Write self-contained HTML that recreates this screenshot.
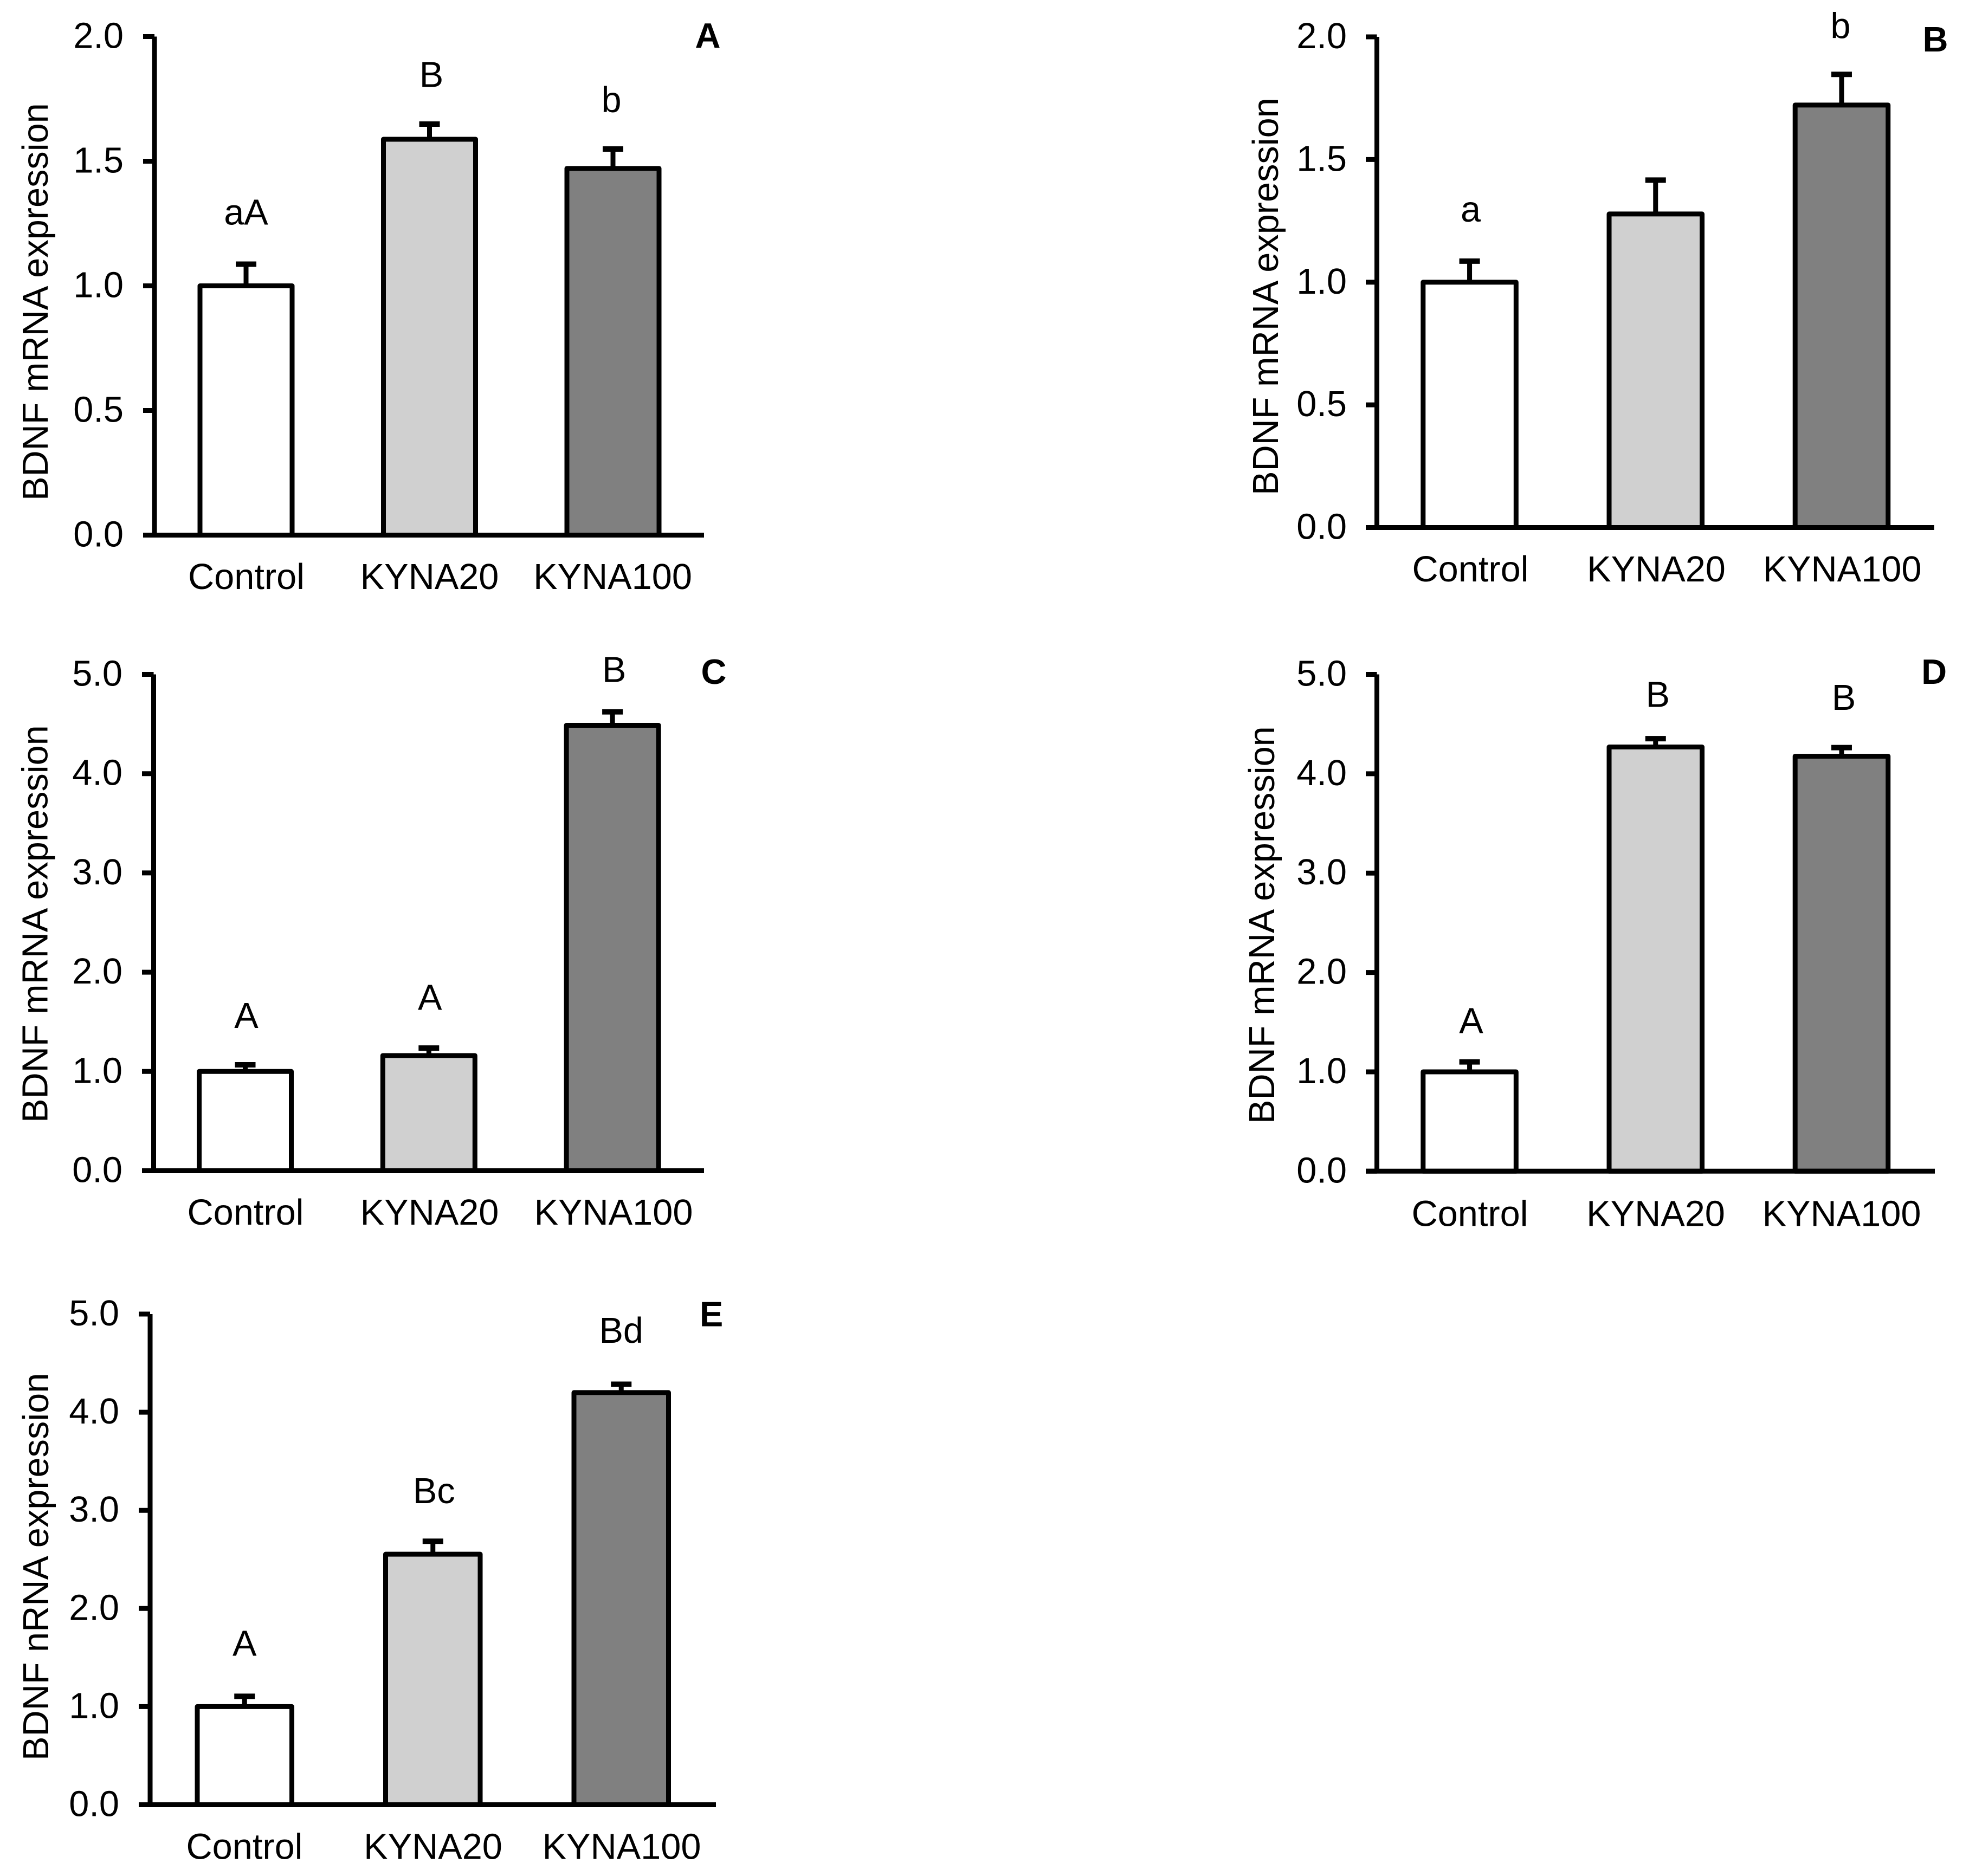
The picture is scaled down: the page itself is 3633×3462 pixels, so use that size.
<!DOCTYPE html>
<html lang="en">
<head>
<meta charset="utf-8">
<title>BDNF mRNA expression bar charts</title>
<style>
html,body{margin:0;padding:0;background:#fff;width:3633px;height:3462px;overflow:hidden}
svg{display:block}
text{font-family:"Liberation Sans",Arial,sans-serif;fill:#000}
.num{font-size:66.7px}
.title{font-size:66.7px}
.letter{font-size:65px;font-weight:700;text-anchor:middle}
</style>
</head>
<body>
<svg id="figure" xmlns="http://www.w3.org/2000/svg" width="3633" height="3462" viewBox="0 0 3633 3462">
  <rect x="0" y="0" width="3633" height="3462" fill="#fff"/>

  <g id="panel-a">
    <text class="title" transform="translate(88 924) rotate(-90)">BDNF mRNA expression</text>
    <text class="letter" x="1306" y="88">A</text>
  </g>
  <g id="panel-b">
    <text class="title" transform="translate(2358 914) rotate(-90)">BDNF mRNA expression</text>
    <text class="letter" x="3571" y="95">B</text>
  </g>
  <g id="panel-c">
    <text class="title" transform="translate(87.5 2072) rotate(-90)">BDNF mRNA expression</text>
    <text class="letter" x="1317" y="1262">C</text>
  </g>
  <g id="panel-d">
    <text class="title" transform="translate(2351 2074) rotate(-90)">BDNF mRNA expression</text>
    <text class="letter" x="3568.6" y="1262">D</text>
  </g>
  <g id="panel-e">
    <text class="title" transform="translate(89 3249) rotate(-90)">BDNF nRNA expression</text>
    <text class="letter" x="1312.5" y="2447.6">E</text>
  </g>
</svg>

<script>
// ---- chart data ----
const categories = ['Control', 'KYNA20', 'KYNA100'];
const tickLabels2 = ['0.0', '0.5', '1.0', '1.5', '2.0'];
const tickLabels5 = ['0.0', '1.0', '2.0', '3.0', '4.0', '5.0'];

const valuesA = [1.0, 1.588, 1.471];
const errorsA = [0.087, 0.061, 0.078];
const sigA = ['aA', 'B', 'b'];

const valuesB = [1.0, 1.278, 1.722];
const errorsB = [0.086, 0.138, 0.125];
const sigB = ['a', '', 'b'];

const valuesC = [1.0, 1.16, 4.487];
const errorsC = [0.067, 0.076, 0.136];
const sigC = ['A', 'A', 'B'];

const valuesD = [1.0, 4.269, 4.176];
const errorsD = [0.1, 0.084, 0.087];
const sigD = ['A', 'B', 'B'];

const valuesE = [1.0, 2.553, 4.2];
const errorsE = [0.105, 0.132, 0.085];
const sigE = ['A', 'Bc', 'Bd'];

// ---- styling / layout ----
const NS = 'http://www.w3.org/2000/svg';
const barFills = ['#ffffff', '#d0d0d0', '#808080'];
const LW = 9;

function make(tag, attrs, parent) {
  const el = document.createElementNS(NS, tag);
  for (const k in attrs) el.setAttribute(k, attrs[k]);
  parent.appendChild(el);
  return el;
}

function drawPanel(id, d, L) {
  const g = document.getElementById(id);
  const yMax = parseFloat(d.ticks[d.ticks.length - 1]);
  const yScale = v => L.base - (v / yMax) * (L.base - L.top);
  const barLeft = i => L.firstLeft + i * L.step;
  const barCenter = i => barLeft(i) + L.barW / 2;

  d.values.forEach((v, i) => {
    const top = yScale(v);
    const capY = yScale(v + d.errors[i]);
    const cx = barCenter(i);

    const stem = make('line', {x1: cx, x2: cx, y1: top, y2: capY, stroke: '#000', 'stroke-width': LW}, g);
    
    

    const cap = make('line', {x1: cx - 19, x2: cx + 19, y1: capY, y2: capY, stroke: '#000', 'stroke-width': 10}, g);
    
    

    const bar = make('rect', {x: barLeft(i), y: top, width: L.barW, height: L.base - top, fill: barFills[i], stroke: '#000', 'stroke-width': LW, 'stroke-linejoin': 'round'}, g);
    
    

    if (d.sig[i]) {
      const s = make('text', {class: 'num', x: cx + L.sigDx[i], y: capY - L.sigGap[i], 'text-anchor': 'middle'}, g);
      s.textContent = d.sig[i];
      
      
    }

    const xl = make('text', {class: 'num', x: L.xLabelX(i), y: L.xLabelY, 'text-anchor': 'middle'}, g);
    xl.textContent = categories[i];
    
    
  });

  d.ticks.forEach(t => {
    const y = yScale(parseFloat(t));
    const tick = make('line', {x1: L.tickLeft, x2: L.axisX, y1: y, y2: y, stroke: '#000', 'stroke-width': LW}, g);
    
    

    const lab = make('text', {class: 'num', x: L.tickEnd, y: y + 21, 'text-anchor': 'end'}, g);
    lab.textContent = t;
    
    
  });

  const yAxis = make('line', {x1: L.axisX, x2: L.axisX, y1: L.top, y2: L.base, stroke: '#000', 'stroke-width': LW}, g);
  
  

  const xAxis = make('line', {x1: L.tickLeft, x2: L.xEnd, y1: L.base, y2: L.base, stroke: '#000', 'stroke-width': LW}, g);
  
  
}

drawPanel('panel-a', {values: valuesA, errors: errorsA, sig: sigA, ticks: tickLabels2}, {
  axisX: 285, tickLeft: 264, tickEnd: 228, top: 67.5, base: 987.5, xEnd: 1299,
  firstLeft: 369, barW: 170, step: 338.5,
  sigGap: [73, 68.7, 68], sigDx: [0, 3.5, -3],
  xLabelX: i => 454.5 + i * 338, xLabelY: 1087
});
drawPanel('panel-b', {values: valuesB, errors: errorsB, sig: sigB, ticks: tickLabels2}, {
  axisX: 2540.5, tickLeft: 2520, tickEnd: 2485, top: 68, base: 973.5, xEnd: 3568.6,
  firstLeft: 2625.8, barW: 171.5, step: 343.2,
  sigGap: [73, 0, 67], sigDx: [2, 0, -2],
  xLabelX: i => 2713 + i * 343, xLabelY: 1073
});
drawPanel('panel-c', {values: valuesC, errors: errorsC, sig: sigC, ticks: tickLabels5}, {
  axisX: 283.5, tickLeft: 262, tickEnd: 226, top: 1244.5, base: 2160.5, xEnd: 1299,
  firstLeft: 367.5, barW: 170, step: 338.8,
  sigGap: [68, 70.5, 55], sigDx: [2, 2, 3],
  xLabelX: i => 453 + i * 339.5, xLabelY: 2260
});
drawPanel('panel-d', {values: valuesD, errors: errorsD, sig: sigD, ticks: tickLabels5}, {
  axisX: 2540.5, tickLeft: 2520, tickEnd: 2485, top: 1244.5, base: 2161.3, xEnd: 3570,
  firstLeft: 2625.8, barW: 171.5, step: 343.2,
  sigGap: [53, 58.7, 69.8], sigDx: [3, 4, 4],
  xLabelX: i => 2712 + i * 343, xLabelY: 2262.5
});
drawPanel('panel-e', {values: valuesE, errors: errorsE, sig: sigE, ticks: tickLabels5}, {
  axisX: 277, tickLeft: 256, tickEnd: 220, top: 2425, base: 3330.5, xEnd: 1321,
  firstLeft: 364, barW: 174.5, step: 347.5,
  sigGap: [75, 70, 76.5], sigDx: [0, 2, 0],
  xLabelX: i => 451 + i * 348, xLabelY: 3430.5
});
</script>
</body>
</html>
